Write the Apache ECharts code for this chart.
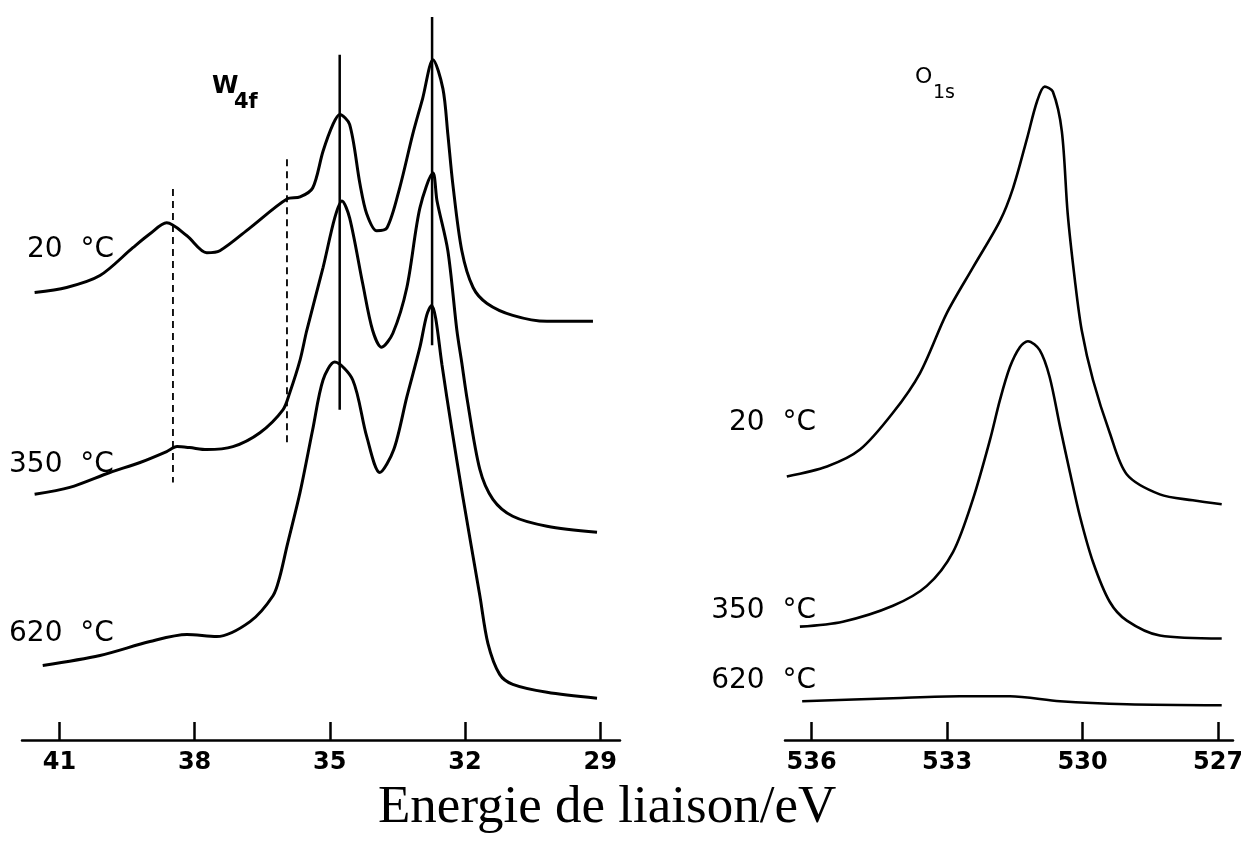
<!DOCTYPE html>
<html><head><meta charset="utf-8">
<script src="https://cdn.jsdelivr.net/npm/echarts@6/dist/echarts.min.js"></script>
<style>html,body{margin:0;padding:0;background:#fff}#c{width:1241px;height:844px}</style>
</head><body><div id="c"></div>
<script>
// ---- tick labels (binding energy, eV) ----
const wTicks = [41, 38, 35, 32, 29];
const oTicks = [536, 533, 530, 527];

// ---- W 4f spectra (binding energy eV / intensity, arb. units incl. offset) ----
const w20_eV = [41.55,40.84,40.10,39.37,38.99,38.62,38.17,37.73,37.44,36.77,35.95,35.66,35.38,35.15,34.93,34.78,34.56,34.33,34.18,33.96,33.73,33.45,33.16,32.94,32.71,32.49,32.38,32.27,32.07,31.82,31.51,30.94,30.18,29.16];
const w20_I  = [45.0,45.5,46.7,49.5,50.9,52.0,50.7,49.0,49.2,51.5,54.4,54.6,55.5,59.2,61.9,62.9,61.9,55.9,52.9,51.2,51.5,55.5,60.9,64.5,68.4,65.5,60.9,55.9,49.2,45.5,43.9,42.7,42.1,42.1];

const w350_eV = [41.55,40.77,39.88,39.21,38.62,38.39,38.11,37.73,37.15,36.55,36.04,35.89,35.66,35.51,35.15,34.89,34.73,34.56,34.27,34.05,33.85,33.60,33.29,33.00,32.71,32.62,32.38,32.18,32.07,31.96,31.67,31.38,30.94,30.18,29.07];
const w350_I  = [24.7,25.4,26.9,27.9,29.0,29.5,29.4,29.2,29.5,30.9,33.2,34.9,38.2,41.2,47.5,52.5,54.2,52.5,45.9,41.2,39.5,40.9,45.5,53.5,57.0,54.2,49.2,41.2,37.9,34.5,27.2,24.2,22.5,21.5,20.9];

const w620_eV = [41.37,40.10,38.99,38.17,37.51,36.77,36.26,36.11,35.95,35.66,35.38,35.15,34.89,34.49,34.18,33.89,33.58,33.29,33.00,32.85,32.74,32.65,32.51,32.29,32.05,31.67,31.49,31.23,30.94,30.18,29.07];
const w620_I  = [7.5,8.5,9.9,10.6,10.4,11.9,14.5,16.4,19.5,24.9,31.2,36.2,38.0,36.2,30.5,26.9,29.2,34.5,39.5,42.7,43.7,42.4,37.7,31.2,24.5,14.5,9.7,6.6,5.6,4.8,4.2];

// ---- O 1s spectra ----
const o20_eV = [536.55,535.66,534.93,534.20,533.60,533.01,532.43,531.83,531.54,531.23,531.01,530.84,530.66,530.46,530.33,530.17,530.02,529.77,529.40,529.02,528.29,527.56,526.92];
const o20_I  = [26.5,27.5,29.2,32.9,36.9,42.9,47.5,52.2,55.5,60.5,64.2,65.7,65.2,61.2,52.9,46.2,41.2,36.2,30.9,26.7,24.7,24.1,23.7];

const o350_eV = [536.26,535.31,534.20,533.45,532.87,532.43,532.05,531.83,531.61,531.39,531.21,530.95,530.73,530.50,530.28,530.06,529.77,529.40,529.02,528.29,526.92];
const o350_I  = [11.4,11.9,13.5,15.5,18.9,24.2,30.2,34.2,37.5,39.5,40.1,39.2,36.5,31.5,26.9,22.5,17.9,13.9,12.0,10.5,10.2];

const o620_eV = [536.21,534.20,532.72,531.61,530.50,529.02,526.92];
const o620_I  = [3.9,4.2,4.4,4.4,3.9,3.6,3.5];

// ---- peak marker lines (eV, intensity from/to) ----
const solidLine1 = [[34.78, 68.9], [34.78, 33.2]];
const solidLine2 = [[32.73, 72.7], [32.73, 39.7]];
const dashLine1  = [[38.48, 55.4], [38.48, 25.9]];
const dashLine2  = [[35.95, 58.4], [35.95, 29.7]];

// ---- annotation texts ----
const tempLabels = ['20  °C', '350  °C', '620  °C'];
const xTitle = 'Energie de liaison/eV';

const zip = (a, b) => a.map((v, i) => [v, b[i]]);

const chart = echarts.init(document.getElementById('c'), null, {renderer: 'canvas'});

const axisCommon = {
  type: 'value', inverse: true,
  axisLine: {show: true, lineStyle: {color: '#000', width: 2.5}},
  axisTick: {show: true, inside: true, length: 18, lineStyle: {color: '#000', width: 2.5}},
  axisLabel: {color: '#000', fontSize: 24, fontWeight: 'bold', fontFamily: 'DejaVu Sans', margin: 11},
  splitLine: {show: false}
};

const curve = (name, data, xi, w) => ({
  name, type: 'line', xAxisIndex: xi, yAxisIndex: xi, data,
  showSymbol: false, smooth: 0.3, silent: true,
  lineStyle: {color: '#000', width: w}
});
const vline = (data, xi, dashed) => ({
  type: 'line', xAxisIndex: xi, yAxisIndex: xi, data, showSymbol: false, silent: true,
  lineStyle: {color: '#000', width: dashed ? 1.8 : 2.5, type: dashed ? [7, 5] : 'solid'}
});

const txt = (text, x, y, size, align, weight, family) => ({
  type: 'text', x, y, silent: true,
  style: {text, fill: '#000', align: align || 'left', verticalAlign: 'middle',
    font: (weight || 'normal') + ' ' + size + 'px ' + (family || '"DejaVu Sans"')}
});

chart.setOption({
  animation: false,
  backgroundColor: '#fff',
  grid: [
    {left: 22, right: 621, top: 14, bottom: 104, outerBoundsMode: 'none', containLabel: false},
    {left: 785, right: 8, top: 14, bottom: 104, outerBoundsMode: 'none', containLabel: false}
  ],
  xAxis: [
    Object.assign({}, axisCommon, {gridIndex: 0, min: 28.56, max: 41.83,
      axisTick: Object.assign({}, axisCommon.axisTick, {customValues: wTicks}),
      axisLabel: Object.assign({}, axisCommon.axisLabel, {customValues: wTicks})}),
    Object.assign({}, axisCommon, {gridIndex: 1, min: 526.67, max: 536.59,
      axisTick: Object.assign({}, axisCommon.axisTick, {customValues: oTicks}),
      axisLabel: Object.assign({}, axisCommon.axisLabel, {customValues: oTicks})})
  ],
  yAxis: [
    {type: 'value', gridIndex: 0, min: 0, max: 73, show: false},
    {type: 'value', gridIndex: 1, min: 0, max: 73, show: false}
  ],
  series: [
    curve('W4f 20 °C', zip(w20_eV, w20_I), 0, 3),
    curve('W4f 350 °C', zip(w350_eV, w350_I), 0, 3),
    curve('W4f 620 °C', zip(w620_eV, w620_I), 0, 3),
    curve('O1s 20 °C', zip(o20_eV, o20_I), 1, 2.6),
    curve('O1s 350 °C', zip(o350_eV, o350_I), 1, 2.6),
    curve('O1s 620 °C', zip(o620_eV, o620_I), 1, 2.6),
    vline(solidLine1, 0, false),
    vline(solidLine2, 0, false),
    vline(dashLine1, 0, true),
    vline(dashLine2, 0, true)
  ],
  graphic: [
    txt(tempLabels[0], 27, 250, 28),
    txt(tempLabels[1], 9, 465, 28),
    txt(tempLabels[2], 9, 634, 28),
    txt(tempLabels[0], 816, 423, 28, 'right'),
    txt(tempLabels[1], 816, 611, 28, 'right'),
    txt(tempLabels[2], 816, 681, 28, 'right'),
    txt('W', 212, 87, 24, 'left', 'bold'),
    txt('4f', 234, 103, 21, 'left', 'bold'),
    txt('O', 915, 77, 22),
    txt('1s', 933, 93, 19),
    txt(xTitle, 378, 808, 53, 'left', 'normal', '"Liberation Serif"')
  ]
});
</script>
</body></html>
